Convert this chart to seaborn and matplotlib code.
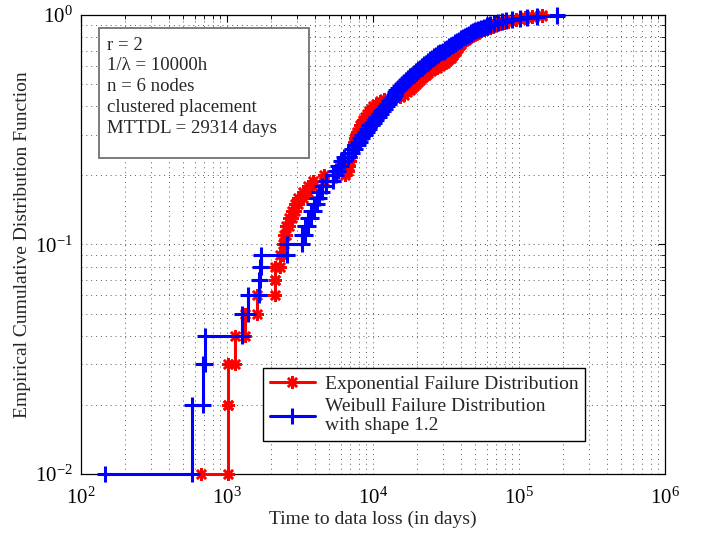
import numpy as np
import pandas as pd
import matplotlib
matplotlib.use('Agg')
import matplotlib.pyplot as plt
from matplotlib.patches import Rectangle
import seaborn as sns

# sorted times to data loss (days), 100 simulation runs per model
exp_days = [664, 1016, 1020, 1135, 1328, 1605, 2133, 2140, 2308, 2421,
            2457, 2535, 2660, 2788, 2924, 3066, 3318, 3589, 3882, 4640,
            6433, 6742, 6850, 6950, 7063, 7177, 7294, 7412, 7527, 7648,
            7767, 8016, 8146, 8413, 8543, 8811, 9102, 9390, 9690, 10000,
            10490, 11170, 11890, 13494, 15310, 16300, 17100, 17910, 18480, 19080,
            19690, 20330, 20980, 21650, 22340, 23060, 23800, 24950, 26160, 27420,
            28760, 30160, 31120, 32110, 33140, 34200, 34750, 35300, 35870, 36440,
            37010, 37600, 38220, 38810, 39430, 40060, 40690, 42000, 43350, 44750,
            46170, 47660, 49190, 50770, 52410, 54970, 57650, 60460, 63360, 66400,
            69580, 74250, 78900, 84120, 89500, 95300, 101600, 110000, 122800, 143800]

weib_days = [146, 575, 685, 707, 1268, 1392, 1656, 1683, 1710, 2576,
             3266, 3423, 3589, 3760, 3944, 4132, 4264, 4474, 4766, 5318,
             5580, 5754, 6040, 6324, 6742, 7177, 7527, 7889, 8146, 8413,
             8811, 9102, 9390, 9850, 10160, 10490, 11000, 11350, 11710, 12088,
             12470, 12870, 13280, 13710, 13930, 14150, 14370, 14838, 15310, 15800,
             16300, 16820, 17360, 17910, 18480, 19080, 19690, 20330, 20980, 21650,
             22340, 23060, 23800, 24570, 25340, 26160, 27000, 27870, 28760, 30160,
             31120, 32110, 33140, 34200, 35300, 36440, 37600, 38810, 40060, 41340,
             42670, 44040, 45450, 46910, 48410, 49980, 52410, 54970, 57650, 60460,
             63360, 67440, 71780, 76400, 81320, 89500, 101600, 113500, 132700, 182000]

series_labels = ['Exponential Failure Distribution',
                 'Weibull Failure Distribution\nwith shape 1.2']
info_lines = ['r = 2', '1/\u03bb = 10000h', 'n = 6 nodes',
              'clustered placement', 'MTTDL = 29314 days']


def stairs(times):
    # vertices of the empirical CDF staircase
    t = np.sort(np.asarray(times, dtype=float))
    p = np.arange(1, len(t) + 1) / len(t)
    x = np.column_stack([t, np.append(t[1:], t[-1])]).ravel()[:-1]
    y = np.repeat(p, 2)[:-1]
    return pd.DataFrame({'days': x, 'F': y})


sns.set_theme(style='white')
plt.rcParams['font.family'] = ['Liberation Serif', 'DejaVu Serif']
plt.rcParams['mathtext.fontset'] = 'stix'

fig = plt.figure(figsize=(7.07, 5.33), dpi=100)
ax = fig.add_axes([0.1146, 0.1107, 0.826, 0.8612])

exp_df = stairs(exp_days)
weib_df = stairs(weib_days)

sns.lineplot(data=exp_df, x='days', y='F', sort=False, estimator=None, ax=ax,
             color='#ff0000', linewidth=2.2, marker=(8, 2, 0), markersize=9,
             markeredgewidth=1.8, markeredgecolor='#ff0000', label=series_labels[0],
             clip_on=False, zorder=3)
sns.lineplot(data=weib_df, x='days', y='F', sort=False, estimator=None, ax=ax,
             color='#0000ff', linewidth=2.2, marker='+', markersize=11,
             markeredgewidth=2.2, markeredgecolor='#0000ff', label=series_labels[1],
             clip_on=False, zorder=3)

ax.set_xscale('log')
ax.set_yscale('log')
ax.set_xlim(1e2, 1e6)
ax.set_ylim(1e-2, 1e0)
ax.grid(True, which='both', linestyle=(0, (1, 4)), color='0.35', linewidth=0.7,
        dash_capstyle='butt')
ax.set_axisbelow(True)
ax.tick_params(which='both', direction='in', top=True, right=True, labelsize=15, colors='black')
ax.tick_params(axis='x', which='major', pad=10)
ax.tick_params(axis='y', which='major', pad=6)
ax.tick_params(which='major', length=5, width=0.8)
ax.tick_params(which='minor', length=3, width=0.6)
for s in ax.spines.values():
    s.set_color('black')
    s.set_linewidth(0.9)

ax.set_xlabel('Time to data loss (in days)', fontsize=14, labelpad=1)
ax.set_ylabel('Empirical Cumulative Distribution Function', fontsize=14, labelpad=3)

# annotation box with simulation parameters
ax.add_patch(Rectangle((0.031, 0.688), 0.359, 0.284, transform=ax.transAxes,
                       facecolor='white', edgecolor='0.4', linewidth=1.2, zorder=4))
ax.text(0.045, 0.953, '\n'.join(info_lines), transform=ax.transAxes, va='top', ha='left',
        fontsize=13.5, linespacing=1.3, zorder=5)

leg = ax.legend(loc='lower right', bbox_to_anchor=(0.863, 0.072), fontsize=14,
                fancybox=False, edgecolor='black', framealpha=1, handlelength=2.3,
                borderpad=0.35, labelspacing=0.25, handletextpad=0.5, borderaxespad=0)
leg.get_frame().set_linewidth(1.0)
leg.set_zorder(6)

fig.savefig('out.png', dpi=100)
